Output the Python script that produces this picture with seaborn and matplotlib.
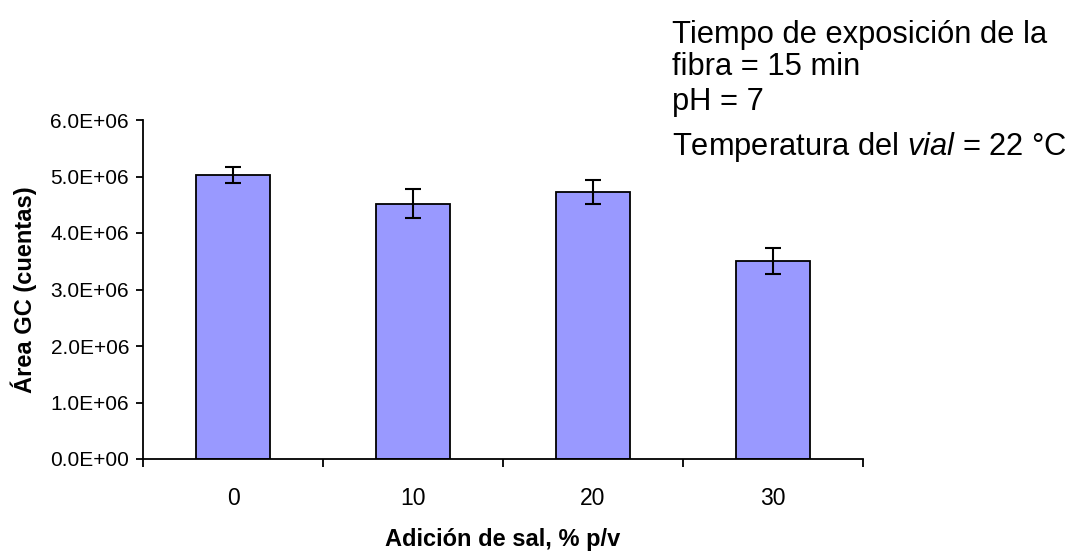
import matplotlib
matplotlib.use("Agg")
import matplotlib.pyplot as plt
import seaborn as sns
import pandas as pd
from matplotlib.ticker import FixedLocator, FuncFormatter

categories = ["0", "10", "20", "30"]
area_mean = [5.02e6, 4.52e6, 4.73e6, 3.51e6]
area_err = [0.14e6, 0.25e6, 0.21e6, 0.23e6]
y_ticks = [0, 1e6, 2e6, 3e6, 4e6, 5e6, 6e6]

sns.set_theme(style="white")
plt.rcParams["font.family"] = ["Liberation Sans", "DejaVu Sans"]
plt.rcParams["mathtext.fontset"] = "custom"
plt.rcParams["mathtext.rm"] = "Liberation Sans"
plt.rcParams["mathtext.it"] = "Liberation Sans:italic"

W, H = 1071, 554
fig = plt.figure(figsize=(W / 100, H / 100), dpi=100)
ax = fig.add_axes([143 / W, 1 - 459 / H, (863 - 143) / W, (459 - 120) / H])

df = pd.DataFrame({"sal": categories, "area": area_mean})
sns.barplot(data=df, x="sal", y="area", ax=ax, color="#9999FF", saturation=1,
            edgecolor="black", linewidth=1.3, width=0.41, errorbar=None)
ax.errorbar(range(len(categories)), area_mean, yerr=area_err, fmt="none",
            ecolor="black", elinewidth=1.5, capsize=6, capthick=1.5)

ax.set_xlim(-0.5, len(categories) - 0.5)
ax.set_ylim(0, 6e6)
ax.set_yticks(y_ticks)
ax.yaxis.set_major_formatter(FuncFormatter(lambda v, p: f"{v:.1E}"))

# category boundaries as tick marks, labels at centres
ax.xaxis.set_major_locator(FixedLocator([i - 0.5 for i in range(len(categories) + 1)]))
ax.xaxis.set_major_formatter(FuncFormatter(lambda v, p: ""))
ax.xaxis.set_minor_locator(FixedLocator(list(range(len(categories)))))
ax.set_xticklabels(categories, minor=True)
ax.tick_params(axis="x", which="major", direction="out", length=6, width=1.3, color="black", bottom=True)
ax.tick_params(axis="x", which="minor", length=0, labelsize=16.5, pad=20.5, colors="black", bottom=True)
ax.tick_params(axis="y", direction="out", length=5, width=1.3, color="black", labelsize=15, pad=5, left=True, labelcolor="black")

for s in ["top", "right"]:
    ax.spines[s].set_visible(False)
for s in ["left", "bottom"]:
    ax.spines[s].set_color("black")
    ax.spines[s].set_linewidth(1.3)

ax.set_xlabel("Adición de sal, % p/v", fontsize=17, fontweight="bold", color="black")
ax.set_ylabel("Área GC (cuentas)", fontsize=17, fontweight="bold", color="black")
ax.xaxis.set_label_coords(0.5, (459 - 528) / 339)
ax.yaxis.set_label_coords((37 - 143) / 720, 0.5)

txt_kw = dict(fontsize=22.2, color="black", va="baseline", ha="left")
fig.text(672 / W, 1 - 43 / H, "Tiempo de exposición de la", **txt_kw)
fig.text(672 / W, 1 - 75 / H, "fibra = 15 min", **txt_kw)
fig.text(672 / W, 1 - 110 / H, "pH = 7", **txt_kw)
fig.text(672 / W, 1 - 155 / H, r"Temperatura del $\mathit{vial}$ = 22 °C", **txt_kw)

fig.savefig("out.png", dpi=100)
